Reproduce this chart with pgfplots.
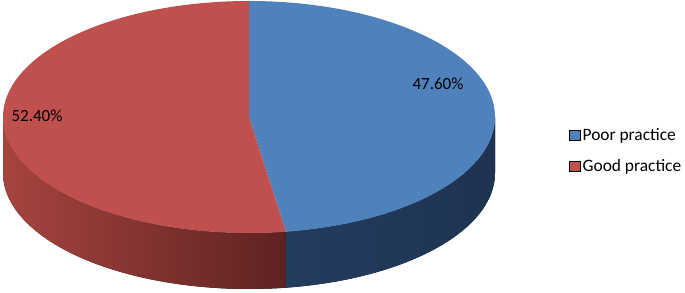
\documentclass[border=0pt]{standalone}
\usepackage{pgfplots}
\pgfplotsset{compat=1.18}
\usepackage{fontspec}
\setmainfont{Carlito}
\definecolor{pieblue}{HTML}{4F81BD}
\definecolor{piered}{HTML}{C0504D}
\definecolor{sideblueL}{HTML}{233D60}
\definecolor{sideblueR}{HTML}{1E3350}
\definecolor{sideredL}{HTML}{A6443F}
\definecolor{sideredM}{HTML}{8A3634}
\definecolor{sideredR}{HTML}{5E2221}
\begin{document}
\begin{tikzpicture}
\pgfmathsetmacro{\poor}{47.6}
\pgfmathsetmacro{\good}{52.4}
\pgfmathsetmacro{\cx}{249}
\pgfmathsetmacro{\cy}{175}
\pgfmathsetmacro{\ra}{246}
\pgfmathsetmacro{\rb}{116}
\pgfmathsetmacro{\splitang}{90-3.6*\poor}
\pgfmathsetmacro{\splitp}{\splitang+360}
\pgfmathsetmacro{\sx}{\cx+\ra*cos(\splitang)}
\pgfmathsetmacro{\sy}{\cy+\rb*sin(\splitang)}
\pgfmathsetmacro{\lx}{\cx-\ra}
\pgfmathsetmacro{\rx}{\cx+\ra}
\pgfmathsetmacro{\ty}{\cy+\rb}
\begin{axis}[x=1pt,y=1pt,xmin=0,xmax=685,ymin=0,ymax=292,
  hide axis,enlargelimits=false,clip=false,
  legend style={draw=none,fill=none,at={(axis cs:566,140)},anchor=west,
    font=\fontsize{17.4}{20}\selectfont,
    nodes={inner xsep=2.5pt,inner ysep=7.5pt,text height=12pt,text depth=4pt}},
  legend cell align=left,
  legend image code/.code={\fill[#1] (0pt,-4pt) rectangle (10.5pt,6pt);}]
\addlegendimage{fill=pieblue}
\addlegendentry{Poor practice}
\addlegendimage{fill=piered}
\addlegendentry{Good practice}
% sides
\fill[left color=sideredL,middle color=sideredM,right color=sideredR]
  (axis cs:\lx,\cy) arc[start angle=180,end angle=\splitp,x radius=\ra pt,y radius=\rb pt]
  -- ++(0,-56pt) arc[start angle=\splitp,end angle=180,x radius=\ra pt,y radius=\rb pt] -- cycle;
\fill[left color=sideblueL,right color=sideblueR]
  (axis cs:\sx,\sy) arc[start angle=\splitp,end angle=360,x radius=\ra pt,y radius=\rb pt]
  -- ++(0,-56pt) arc[start angle=360,end angle=\splitp,x radius=\ra pt,y radius=\rb pt] -- cycle;
% top
\fill[pieblue] (axis cs:\cx,\cy) -- (axis cs:\cx,\ty)
  arc[start angle=90,end angle=\splitang,x radius=\ra pt,y radius=\rb pt] -- cycle;
\fill[piered] (axis cs:\cx,\cy) -- (axis cs:\sx,\sy)
  arc[start angle=\splitang,end angle=-270,x radius=\ra pt,y radius=\rb pt] -- cycle;
\node[font=\fontsize{17}{20}\selectfont] at (axis cs:438,208) {47.60\%};
\node[font=\fontsize{17}{20}\selectfont] at (axis cs:37,176) {52.40\%};
\end{axis}
\pgfresetboundingbox
\path (0,0) rectangle (685pt,292pt);
\end{tikzpicture}
\end{document}
